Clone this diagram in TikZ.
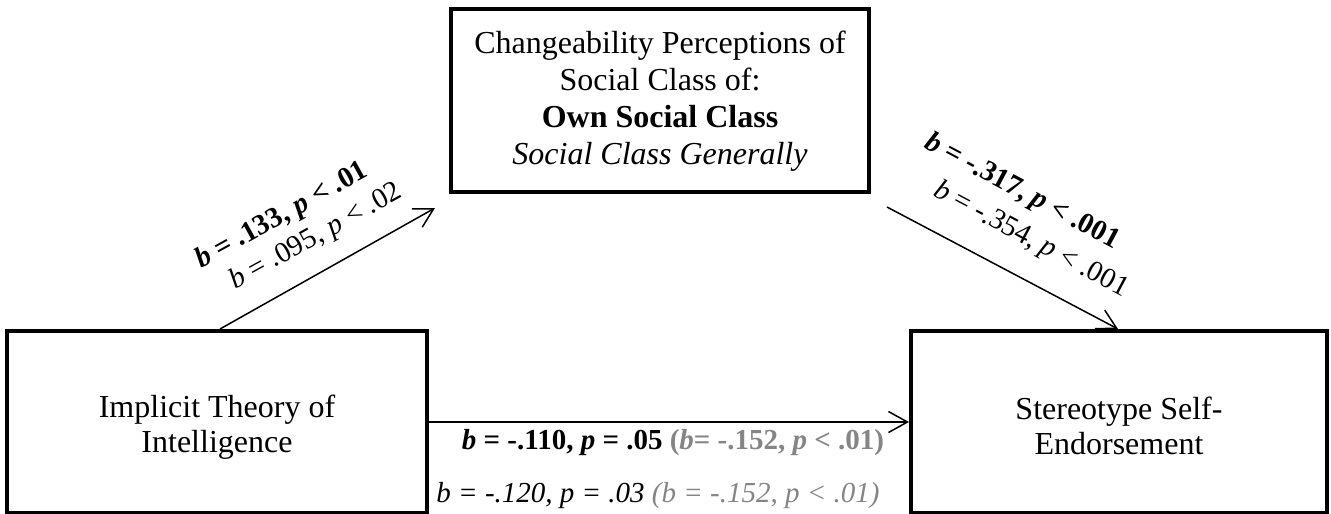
\documentclass[tikz,border=0pt]{standalone}
\usepackage{fontspec}
\setmainfont{Liberation Serif}
\usetikzlibrary{arrows.meta}
\begin{document}
\begin{tikzpicture}[x=1pt,y=-1pt,
  box/.style={draw, line width=4pt, rectangle, inner sep=0pt},
  boxtext/.style={align=center, inner sep=0pt, font=\fontsize{32}{35}\selectfont},
  arr/.style={line width=1.5pt, -{Straight Barb[length=19pt,width=21pt,line width=1.5pt]}},
  lab/.style={font=\fontsize{29}{34}\selectfont, inner sep=0pt}
]
\useasboundingbox (0,0) rectangle (1331,514);
\colorlet{greytext}{black!48}
% boxes
\node[box, minimum width=420pt, minimum height=182pt] (L) at (217,422) {};
\node[boxtext] (Lt) at (217,427) {Implicit Theory of\\Intelligence};
\node[box, minimum width=416pt, minimum height=182pt] (R) at (1119,422) {};
\node[boxtext] (Rt) at (1119,426) {Stereotype Self-\\Endorsement};
\node[box, minimum width=418pt, minimum height=183pt] (T) at (660,100.5) {};
\node[boxtext, font=\fontsize{32}{37}\selectfont] (Tt) at (660,101.5)
  {Changeability Perceptions of\\Social Class of:\\\textbf{Own Social Class}\\\textit{Social Class Generally}};
% connectors
\coordinate (a1) at (435,208);
\coordinate (r0) at (887,207);
\draw[arr] ([xshift=3pt]L.north) -- (a1);
\draw[arr] (r0) -- ([xshift=-1pt]R.north);
\draw[arr] (L.east) -- (R.west);
% labels left
\node[lab, rotate=29] (la1) at (282,216) {\textbf{\textit{b} = .133, \textit{p} < .01}};
\node[lab, rotate=29] (la2) at (316,237) {\textit{b} = .095, \textit{p} < .02};
% labels right
\node[lab, rotate=-28] (ra1) at (1022,192) {\textbf{\textit{b} = -.317, \textit{p} < .001}};
\node[lab, rotate=-28] (ra2) at (1031,240) {\textit{b} = -.354, \textit{p} < .001};
% labels bottom
\node[lab, anchor=base] (ba1) at (673,449) {\textbf{\textit{b} = -.110, \textit{p} = .05 \textcolor{greytext}{(\textit{b}= -.152, \textit{p} < .01)}}};
\node[lab, anchor=base] (ba2) at (658,502) {\textit{b = -.120, p = .03 \textcolor{greytext}{(b = -.152, p < .01)}}};
\end{tikzpicture}
\end{document}
